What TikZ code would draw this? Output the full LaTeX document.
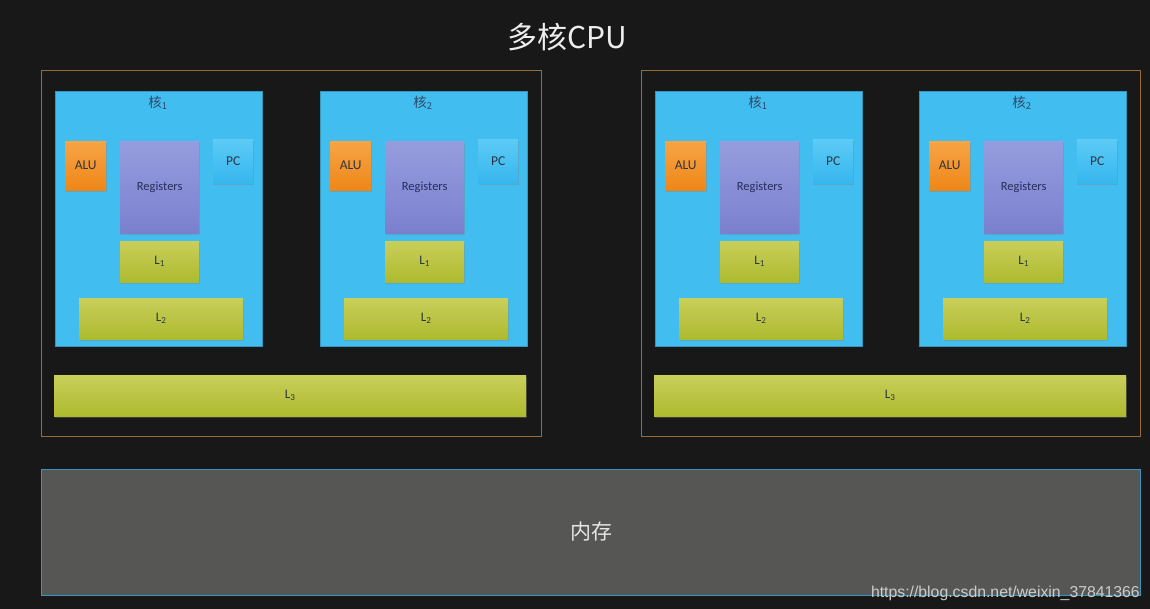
\documentclass[tikz,border=0pt]{standalone}
\usepackage{fontspec}
\setmainfont{Carlito}
\newfontfamily\cjk{Noto Sans CJK SC}
\newfontfamily\wmfont{Liberation Sans}
\usetikzlibrary{shadows}
\definecolor{bgc}{HTML}{181818}
\definecolor{cpuline}{HTML}{9A6B3A}
\definecolor{coreblue}{HTML}{41BDF0}
\definecolor{alutop}{HTML}{F7A445}
\definecolor{alubot}{HTML}{EE8718}
\definecolor{regtop}{HTML}{959DDD}
\definecolor{regbot}{HTML}{7B80CE}
\definecolor{pctop}{HTML}{5CCBF6}
\definecolor{pcbot}{HTML}{36B6EE}
\definecolor{ltop}{HTML}{C8CF5A}
\definecolor{lbot}{HTML}{AEBA2E}
\definecolor{memgray}{HTML}{565754}
\definecolor{memline}{HTML}{3A94BC}
\definecolor{txt}{HTML}{2E3440}
\definecolor{titletxt}{HTML}{2F4A66}
\tikzset{
  cpubox/.style={draw=cpuline, line width=0.8pt, fill=none, anchor=north west, inner sep=0pt},
  corebox/.style={fill=coreblue, draw=coreblue!80!black, line width=0.4pt, anchor=north west, inner sep=0pt},
  unitbox/.style={anchor=north west, inner sep=0pt, font=\fontsize{13}{15}\selectfont, text=txt,
    drop shadow={opacity=0.35, shadow xshift=1pt, shadow yshift=-1.5pt}},
  alubox/.style={unitbox, top color=alutop, bottom color=alubot, font=\fontsize{13.5}{15}\selectfont},
  regbox/.style={unitbox, top color=regtop, bottom color=regbot, text=txt!85!blue, font=\fontsize{12.5}{15}\selectfont},
  pcbox/.style={unitbox, top color=pctop, bottom color=pcbot, font=\fontsize{13.5}{15}\selectfont},
  cachebox/.style={unitbox, top color=ltop, bottom color=lbot},
  coretitle/.style={font=\cjk\fontsize{13.5}{15}\selectfont, text=titletxt, inner sep=0pt},
}
\begin{document}
\begin{tikzpicture}[x=1pt,y=-1pt]
\fill[bgc] (0,0) rectangle (1150,609);
\useasboundingbox (0,0) rectangle (1150,609);
\node[font=\cjk\fontsize{30}{34}\selectfont, text=white!93!black] (title) at (567,37) {多核CPU};
% CPU boxes
\node[cpubox, minimum width=500pt, minimum height=366pt] (cpuA) at (41,70) {};
\node[cpubox, minimum width=499pt, minimum height=366pt] (cpuB) at (641,70) {};
% cores
\foreach \n/\ox/\lab in {a/0/1, b/265/2, c/600/1, d/864/2}{
  \node[corebox, minimum width=207pt, minimum height=255pt] (core\n) at (55+\ox,91) {};
  \node[coretitle] (title\n) at (158+\ox,103) {核\textsubscript{\lab}};
  \node[alubox, minimum width=41pt, minimum height=49pt] (alu\n) at (65+\ox,141) {ALU};
  \node[regbox, minimum width=79pt, minimum height=92pt] (reg\n) at (120+\ox,141) {Registers};
  \node[pcbox, minimum width=40pt, minimum height=44pt] (pc\n) at (213+\ox,139) {PC};
  \node[cachebox, minimum width=79pt, minimum height=41pt] (lone\n) at (120+\ox,241) {L\textsubscript{1}};
  \node[cachebox, minimum width=164pt, minimum height=41pt] (ltwo\n) at (79+\ox,298) {L\textsubscript{2}};
}
\node[cachebox, minimum width=472pt, minimum height=41pt] (lthreeA) at (54,375) {L\textsubscript{3}};
\node[cachebox, minimum width=472pt, minimum height=41pt] (lthreeB) at (654,375) {L\textsubscript{3}};
% memory
\node[anchor=north west, inner sep=0pt, fill=memgray, draw=memline, line width=0.8pt,
      minimum width=1099pt, minimum height=126pt] (mem) at (41,469) {};
\node[font=\cjk\fontsize{21}{24}\selectfont, text=white!90!black] (memlabel) at (591,532) {内存};
\node[anchor=base east, inner sep=0pt, font=\wmfont\fontsize{15.8}{18}\selectfont, text=white!80!black] (wm) at (1140,597) {https://blog.csdn.net/weixin\_37841366};
\end{tikzpicture}
\end{document}
